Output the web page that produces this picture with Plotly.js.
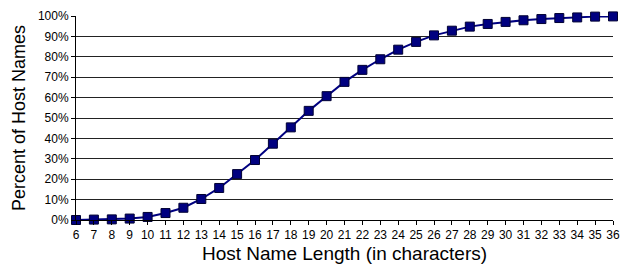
<!DOCTYPE html>
<html>
<head>
<script src="https://cdn.plot.ly/plotly-3.0.1.min.js"></script>
<style>body{margin:0;padding:0;background:#fff;}#chart{width:623px;height:265px;}</style>
</head>
<body>
<div id="chart"></div>
<script>
var lengths = [6,7,8,9,10,11,12,13,14,15,16,17,18,19,20,21,22,23,24,25,26,27,28,29,30,31,32,33,34,35,36];
var percentHostNames = [0,0.2,0.3,0.7,1.5,3.4,6.0,10.3,15.7,22.5,29.4,37.4,45.4,53.5,60.7,67.7,73.6,78.8,83.5,87.3,90.5,92.8,94.8,96.1,97.1,97.9,98.5,99.0,99.3,99.7,99.8];
var yTickVals = [0,10,20,30,40,50,60,70,80,90,100];
var yTickText = ['0%','10%','20%','30%','40%','50%','60%','70%','80%','90%','100%'];

var trace = {
  x: lengths,
  y: percentHostNames,
  type: 'scatter',
  mode: 'lines+markers',
  line: {color: '#000080', width: 2},
  marker: {symbol: 'square', size: 9, color: '#000080', line: {color: '#000033', width: 1}},
  cliponaxis: false,
  hoverinfo: 'x+y'
};

var layout = {
  width: 623,
  height: 265,
  margin: {l: 76, r: 10, t: 16, b: 45},
  paper_bgcolor: '#fff',
  plot_bgcolor: '#fff',
  showlegend: false,
  font: {family: 'Liberation Sans, Arial, sans-serif', color: '#000', size: 12},
  xaxis: {
    range: [6, 36],
    tickvals: lengths,
    ticktext: lengths.map(String),
    ticks: 'outside',
    ticklen: 4,
    tickcolor: '#000',
    showline: true,
    linecolor: '#000',
    linewidth: 1,
    showgrid: false,
    zeroline: false,
    tickfont: {size: 12},
    title: {text: 'Host Name Length (in characters)', font: {size: 19}, standoff: 5}
  },
  yaxis: {
    range: [0, 100],
    tickvals: yTickVals,
    ticktext: yTickText,
    ticks: 'outside',
    ticklen: 4,
    tickcolor: '#000',
    showline: true,
    linecolor: '#000',
    linewidth: 1,
    showgrid: true,
    gridcolor: '#222',
    gridwidth: 1,
    zeroline: false,
    tickfont: {size: 12},
    title: {text: 'Percent of Host Names', font: {size: 18}, standoff: 7}
  }
};

Plotly.newPlot('chart', [trace], layout, {displayModeBar: false, staticPlot: true});
</script>
</body>
</html>
